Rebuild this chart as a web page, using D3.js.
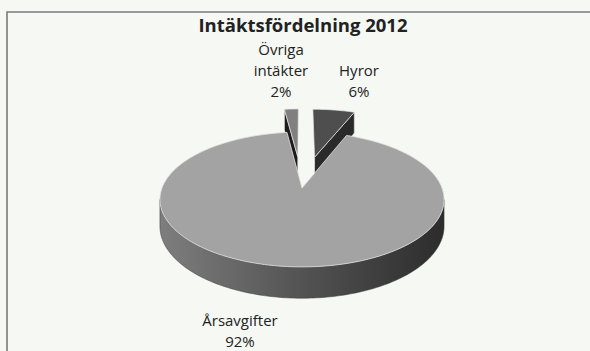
<!DOCTYPE html>
<html><head><meta charset="utf-8">
<script src="https://cdn.jsdelivr.net/npm/d3@7/dist/d3.min.js"></script>
<style>
html,body{margin:0;padding:0;background:#f6f8f4;}
svg{display:block;}
text{font-family:"Open Sans","Noto Sans",sans-serif;fill:#222;}
</style></head>
<body>
<svg id="chart" width="590" height="351"></svg>
<script>
// ---- data ----
const title = "Intäktsfördelning 2012";
const categories = ["Hyror", "Årsavgifter", "Övriga intäkter"];
const values = [6, 92, 2];
const labelLines = [["Hyror", "6%"], ["Årsavgifter", "92%"], ["Övriga", "intäkter", "2%"]];
const exploded = [true, false, true];

// ---- layout ----
const W = 590, H = 351;
const cx = 302, cy = 188, rx = 140, ry = 65.5, p = 0.17, depth = 26, explode = 0.52;
const topColors = ["#4e4e4e", "#a3a3a3", "#808080"];
const sideColors = ["#2a2a2a", "#555", "#1c1c1c"];
const labelPos = [[359, 76], [240, 326], [281, 55]];

const svg = d3.select("#chart");
svg.append("rect").attr("width", W).attr("height", H).attr("fill", "#f6f8f4");

// frame
svg.append("path").attr("d", `M7,${H} L7,12 L${W},12`).attr("fill", "none")
  .attr("stroke", "#7a7a7a").attr("stroke-width", 1.6);

const defs = svg.append("defs");
const grad = defs.append("linearGradient").attr("id", "wall").attr("x1", "0").attr("x2", "1").attr("y1", "0").attr("y2", "0");
grad.append("stop").attr("offset", "0").attr("stop-color", "#7e7e7e");
grad.append("stop").attr("offset", "0.45").attr("stop-color", "#575757");
grad.append("stop").attr("offset", "1").attr("stop-color", "#2c2c2c");

const pie = d3.pie().sort(null).value(d => d).startAngle(0).endAngle(2 * Math.PI);
const arcs = pie(values);

function proj(u, v, z) {
  const s = 1 / (1 + p * v);
  return [cx + rx * u * s, cy - ry * v * s + depth * z * s];
}
const line = d3.line();

function offsetOf(a, i) {
  if (!exploded[i]) return [0, 0];
  const m = (a.startAngle + a.endAngle) / 2;
  return [explode * Math.sin(m), explode * Math.cos(m)];
}
function rimPts(a, o, t0, t1, z) {
  const n = Math.max(2, Math.ceil(Math.abs(t1 - t0) / 0.02));
  return d3.range(n + 1).map(k => {
    const t = t0 + (t1 - t0) * k / n;
    return proj(o[0] + Math.sin(t), o[1] + Math.cos(t), z);
  });
}

const g = svg.append("g");

// big slice wall (front visible part)
arcs.forEach((a, i) => {
  const o = offsetOf(a, i);
  const lo = Math.max(a.startAngle, Math.PI / 2 + 0.17);
  const hi = Math.min(a.endAngle, 3 * Math.PI / 2 - 0.17);
  if (hi <= lo) return;
  const topR = rimPts(a, o, lo, hi, 0);
  const botR = rimPts(a, o, hi, lo, 1);
  g.append("path").attr("d", line(topR.concat(botR)) + "Z")
    .attr("fill", "url(#wall)").attr("stroke", "#3a3a3a").attr("stroke-width", 0.5);
});

// small (exploded) slices: visible radial faces and top faces
arcs.forEach((a, i) => {
  if (!exploded[i]) return;
  const o = offsetOf(a, i);
  const t = (a.startAngle < Math.PI) ? a.endAngle : a.startAngle;
  const face = [
    proj(o[0], o[1], 0),
    proj(o[0] + Math.sin(t), o[1] + Math.cos(t), 0),
    proj(o[0] + Math.sin(t), o[1] + Math.cos(t), 1),
    proj(o[0], o[1], 1)
  ];
  g.append("path").attr("d", line(face) + "Z").attr("fill", sideColors[i])
    .attr("stroke", "#e6e6e6").attr("stroke-width", 0.7);
  const topPts = [proj(o[0], o[1], 0)].concat(rimPts(a, o, a.startAngle, a.endAngle, 0));
  g.append("path").attr("d", line(topPts) + "Z").attr("fill", topColors[i])
    .attr("stroke", "#e6e6e6").attr("stroke-width", 0.7);
});

// big slice top face
arcs.forEach((a, i) => {
  if (exploded[i]) return;
  const o = offsetOf(a, i);
  const topPts = [proj(o[0], o[1], 0)].concat(rimPts(a, o, a.startAngle, a.endAngle, 0));
  g.append("path").attr("d", line(topPts) + "Z").attr("fill", topColors[i])
    .attr("stroke", "#e2e2e2").attr("stroke-width", 0.8);
});

// title
svg.append("text").attr("x", 303).attr("y", 32).attr("text-anchor", "middle")
  .attr("font-size", 18.5).attr("font-weight", "bold").attr("fill", "#111").text(title);

// labels
labelLines.forEach((lines, i) => {
  const t = svg.append("text").attr("text-anchor", "middle").attr("font-size", 15)
    .attr("x", labelPos[i][0]).attr("y", labelPos[i][1]);
  lines.forEach((s, k) => {
    t.append("tspan").attr("x", labelPos[i][0]).attr("dy", k === 0 ? 0 : 21).text(s);
  });
});
</script>
</body></html>
